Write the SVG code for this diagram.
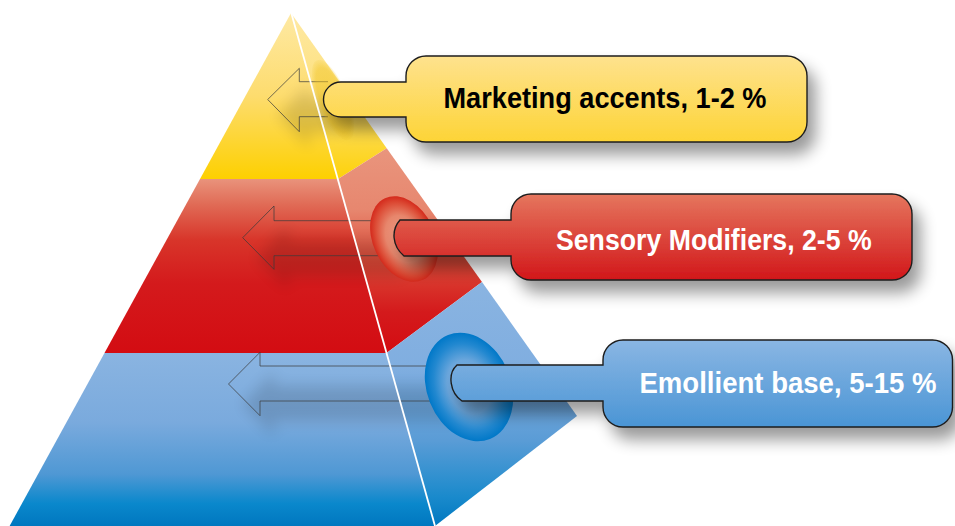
<svg xmlns="http://www.w3.org/2000/svg" width="955" height="526" viewBox="0 0 955 526">
<defs>
  <linearGradient id="yl" x1="0" y1="13" x2="0" y2="179" gradientUnits="userSpaceOnUse">
    <stop offset="0" stop-color="#fee9a4"/><stop offset="0.5" stop-color="#fddc6e"/><stop offset="1" stop-color="#fdd000"/>
  </linearGradient>
  <linearGradient id="yr" x1="0" y1="13" x2="0" y2="179" gradientUnits="userSpaceOnUse">
    <stop offset="0" stop-color="#fee9a4"/><stop offset="0.5" stop-color="#fde07a"/><stop offset="1" stop-color="#fdd20a"/>
  </linearGradient>
  <linearGradient id="rl" x1="0" y1="179" x2="0" y2="353" gradientUnits="userSpaceOnUse">
    <stop offset="0" stop-color="#e9937c"/><stop offset="0.15" stop-color="#e06a55"/><stop offset="0.35" stop-color="#d8352a"/><stop offset="0.6" stop-color="#d41a1c"/><stop offset="1" stop-color="#d30c12"/>
  </linearGradient>
  <linearGradient id="rr" x1="0" y1="148" x2="0" y2="353" gradientUnits="userSpaceOnUse">
    <stop offset="0" stop-color="#e9957d"/><stop offset="0.3" stop-color="#e7876f"/><stop offset="0.55" stop-color="#dc4a38"/><stop offset="0.8" stop-color="#d41a1c"/><stop offset="1" stop-color="#d30c12"/>
  </linearGradient>
  <linearGradient id="bl" x1="0" y1="353" x2="0" y2="526" gradientUnits="userSpaceOnUse">
    <stop offset="0" stop-color="#8ab4e1"/><stop offset="0.4" stop-color="#7aaadd"/><stop offset="0.7" stop-color="#4f98d4"/><stop offset="0.87" stop-color="#0a88cc"/><stop offset="1" stop-color="#0077bf"/>
  </linearGradient>
  <linearGradient id="br" x1="0" y1="282" x2="0" y2="526" gradientUnits="userSpaceOnUse">
    <stop offset="0" stop-color="#8ab4e1"/><stop offset="0.35" stop-color="#80aee0"/><stop offset="0.65" stop-color="#5a9cd6"/><stop offset="0.88" stop-color="#1a8acc"/><stop offset="1" stop-color="#0078c0"/>
  </linearGradient>
  <linearGradient id="cy" x1="0" y1="0" x2="0" y2="1">
    <stop offset="0" stop-color="#fee28e"/><stop offset="1" stop-color="#fdd436"/>
  </linearGradient>
  <linearGradient id="cr" x1="0" y1="0" x2="0" y2="1">
    <stop offset="0" stop-color="#e5765e"/><stop offset="1" stop-color="#d2171a"/>
  </linearGradient>
  <linearGradient id="cb" x1="0" y1="0" x2="0" y2="1">
    <stop offset="0" stop-color="#8ab6e3"/><stop offset="1" stop-color="#4a95d5"/>
  </linearGradient>
  <radialGradient id="ey">
    <stop offset="0" stop-color="#efc21e" stop-opacity="0.55"/><stop offset="0.8" stop-color="#efc21e" stop-opacity="0.45"/><stop offset="1" stop-color="#efc21e" stop-opacity="0.1"/>
  </radialGradient>
  <radialGradient id="er">
    <stop offset="0" stop-color="#eea088"/><stop offset="0.55" stop-color="#e7866c"/><stop offset="0.85" stop-color="#dc4a34"/><stop offset="1" stop-color="#d42a1c"/>
  </radialGradient>
  <radialGradient id="eb">
    <stop offset="0" stop-color="#8ab6e4"/><stop offset="0.5" stop-color="#6aa6dc"/><stop offset="0.8" stop-color="#2288d0"/><stop offset="1" stop-color="#0078c8"/>
  </radialGradient>
  <filter id="ds" x="-10%" y="-30%" width="130%" height="180%">
    <feGaussianBlur in="SourceAlpha" stdDeviation="8"/>
    <feOffset dx="8" dy="12"/>
    <feComponentTransfer><feFuncA type="linear" slope="0.4"/></feComponentTransfer>
    <feMerge><feMergeNode/><feMergeNode in="SourceGraphic"/></feMerge>
  </filter>
  <filter id="soft" x="-30%" y="-60%" width="160%" height="220%">
    <feGaussianBlur stdDeviation="7"/>
  </filter>
  <clipPath id="pyr">
    <polygon points="291,13 577,416 435,526 9.6,526"/>
  </clipPath>
  <style>
    .arrow{fill:none;stroke:#3a3a3a;stroke-width:0.9;stroke-opacity:0.8}
    .ashadow{fill:#000;opacity:0.13;filter:url(#soft)}
    .box{stroke:#1e1e1e;stroke-width:1.4;filter:url(#ds)}
    .lbl{font-family:"Liberation Sans",Arial,sans-serif;font-weight:bold;font-size:30px}
  </style>
</defs>
<rect width="955" height="526" fill="#ffffff"/>

<g id="pyramid">
  <polygon points="291,13 338,179 200,179" fill="url(#yl)"/>
  <polygon points="291,13 386.7,148.3 338,179" fill="url(#yr)"/>
  <polygon points="200,179 338,179 386.5,353 104.5,353" fill="url(#rl)"/>
  <polygon points="338,179 386.7,148.3 482,282 386.5,353" fill="url(#rr)"/>
  <polygon points="104.5,353 386.5,353 435,526 9.6,526" fill="url(#bl)"/>
  <polygon points="386.5,353 482,282 577,416 435,526" fill="url(#br)"/>
  <g clip-path="url(#pyr)">
    <path class="ashadow" d="M330,82 H299 V68 L268,99.5 L299,132 V117 H330 Z" transform="translate(10,16)"/>
    <path class="ashadow" d="M390,221 H274 V206 L243,238 L274,269 V256 H390 Z" transform="translate(14,20)"/>
    <path class="ashadow" d="M440,366 H260 V352 L228.5,384 L260,416 V401 H440 Z" transform="translate(14,20)"/>
  </g>
</g>

<g id="connectors">
  <path class="arrow" d="M328,81.7 H299.3 V68.3 L267.7,99.5 L299.3,131.7 V116.7 H328"/>
  <path class="arrow" d="M380,220.7 H274 V206 L242.7,237.7 L274,269.3 V255.7 H380"/>
  <path class="arrow" d="M440,366 H260 V352.3 L228.5,384 L260,415.7 V401 H440"/>
</g>

<line id="front-edge" x1="291" y1="12" x2="435" y2="526" stroke="#ffffff" stroke-width="1.8"/>

<g id="sockets">
  <ellipse cx="333" cy="100" rx="15" ry="43" transform="rotate(-22 333 100)" fill="url(#ey)"/>
  <ellipse cx="404" cy="239" rx="31" ry="45" transform="rotate(-25 404 239)" fill="url(#er)"/>
  <ellipse cx="469" cy="387" rx="42" ry="56" transform="rotate(-22 469 387)" fill="url(#eb)"/>
</g>

<g id="callout-marketing">
  <path class="box" fill="url(#cy)" d="M341,82 H406 V76 A20,20 0 0 1 426,56 H787 A20,20 0 0 1 807,76 V122 A20,20 0 0 1 787,142 H426 A20,20 0 0 1 406,122 V117 H341 A17.5,17.5 0 0 1 341,82 Z"/>
  <text class="lbl" x="443.5" y="108.3" fill="#000000" textLength="323" lengthAdjust="spacingAndGlyphs">Marketing accents, 1-2 %</text>
</g>

<g id="callout-sensory">
  <path class="box" fill="url(#cr)" d="M400,220 H511 V214 A20,20 0 0 1 531,194 H892 A20,20 0 0 1 912,214 V260 A20,20 0 0 1 892,280 H531 A20,20 0 0 1 511,260 V256 H404 C392,246 391,230 400,220 Z"/>
  <text class="lbl" x="556" y="250" fill="#ffffff" textLength="315.7" lengthAdjust="spacingAndGlyphs">Sensory Modifiers, 2-5 %</text>
</g>

<g id="callout-emollient">
  <path class="box" fill="url(#cb)" d="M457,365 H603 V360 A20,20 0 0 1 623,340 H932.5 A20,20 0 0 1 952.5,360 V407 A20,20 0 0 1 932.5,427 H623 A20,20 0 0 1 603,407 V401 H462 C450,393 447,374 457,365 Z"/>
  <text class="lbl" x="639.5" y="392.7" fill="#ffffff" textLength="297" lengthAdjust="spacingAndGlyphs">Emollient base, 5-15 %</text>
</g>
</svg>
